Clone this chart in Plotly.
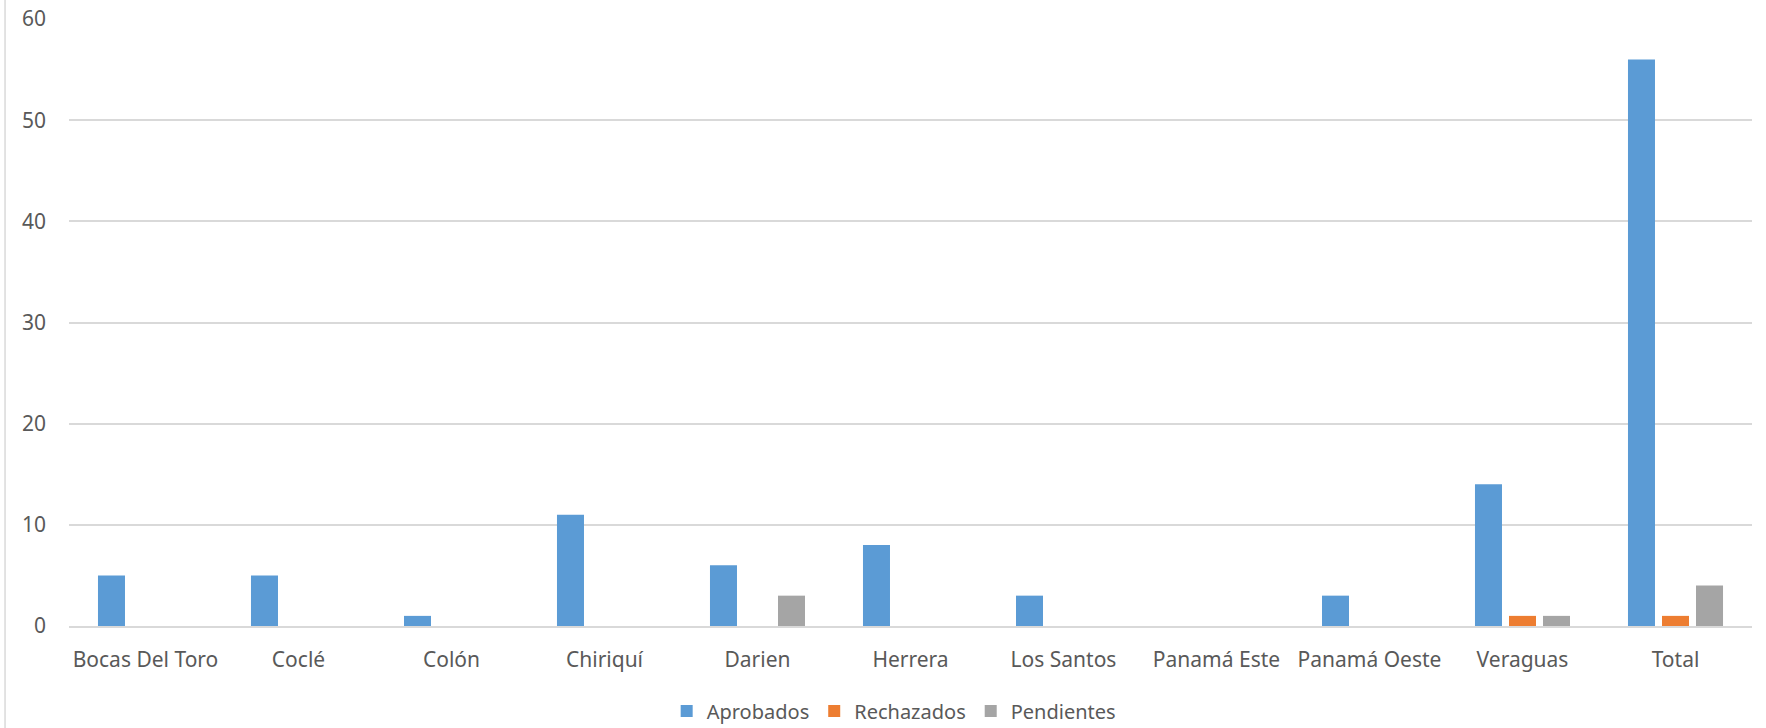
import plotly.graph_objects as go

categories = ["Bocas Del Toro", "Coclé", "Colón", "Chiriquí", "Darien", "Herrera",
              "Los Santos", "Panamá Este", "Panamá Oeste", "Veraguas", "Total"]
aprobados = [5, 5, 1, 11, 6, 8, 3, 0, 3, 14, 56]
rechazados = [0, 0, 0, 0, 0, 0, 0, 0, 0, 1, 1]
pendientes = [0, 0, 0, 0, 3, 0, 0, 0, 0, 1, 4]
y_ticks = [0, 10, 20, 30, 40, 50, 60]

font_family = "Noto Sans, Open Sans, sans-serif"
text_color = "#595959"
fsize = 21

fig = go.Figure()
for name, vals, color in [("Aprobados", aprobados, "#5B9BD5"),
                          ("Rechazados", rechazados, "#ED7D31"),
                          ("Pendientes", pendientes, "#A5A5A5")]:
    fig.add_trace(go.Bar(x=categories, y=vals, name=name,
                         marker=dict(color=color, line=dict(width=0))))

fig.update_layout(
    width=1766, height=728,
    margin=dict(l=69, r=14, t=19, b=102, autoexpand=False),
    paper_bgcolor="white", plot_bgcolor="white",
    barmode="group", bargap=0.333, bargroupgap=0.206,
    font=dict(family=font_family, size=fsize, color=text_color),
    showlegend=True,
    legend=dict(orientation="h", x=0.49, xanchor="center", y=-0.14, yanchor="middle",
                font=dict(size=20, color=text_color), itemwidth=30,
                traceorder="normal"),
    xaxis=dict(showgrid=False, showline=True, linecolor="#d9d9d9", linewidth=1.5,
               ticks="", automargin=False, ticklabelstandoff=14,
               tickfont=dict(size=fsize, color=text_color)),
    yaxis=dict(range=[0, 60], tickvals=y_ticks, showgrid=True, gridcolor="#d9d9d9",
               gridwidth=1.5, zeroline=False, showline=False, ticks="",
               automargin=False, ticklabelstandoff=22,
               tickfont=dict(size=fsize, color=text_color)),
    shapes=[dict(type="line", xref="paper", yref="paper",
                 x0=-0.038, x1=-0.038, y0=-0.2, y1=1.05,
                 line=dict(color="#d9d9d9", width=1.5))],
)

fig.write_html(
    "out.html",
    config={"displayModeBar": False},
    post_script="document.body.style.margin='0';document.body.style.overflow='hidden';",
)
